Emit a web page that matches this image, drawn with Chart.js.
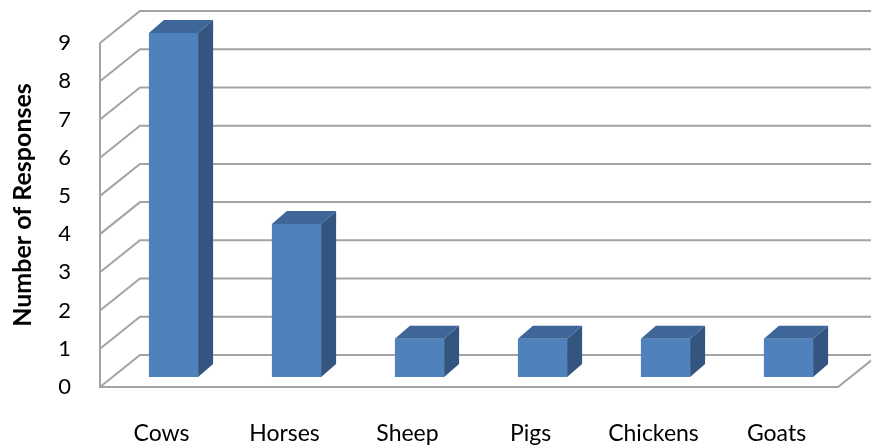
<!DOCTYPE html>
<html>
<head>
<meta charset="utf-8">
<script src="https://cdn.jsdelivr.net/npm/chart.js@4/dist/chart.umd.min.js"></script>
<style>
  html, body { margin: 0; padding: 0; background: #fff; }
</style>
</head>
<body>
<canvas id="animals-chart" width="871" height="446"></canvas>
<script>
const categories = ['Cows', 'Horses', 'Sheep', 'Pigs', 'Chickens', 'Goats'];
const responses = [9, 4, 1, 1, 1, 1];
const yTicks = [0, 1, 2, 3, 4, 5, 6, 7, 8, 9];

// 3d look: front edge of the floor sits in front of the bars, back wall behind
const front = { dx: -12, dy: 10 };
const back = { dx: 28, dy: -22 };
const depth = { dx: 15, dy: -13 };
const gridColor = '#a3a3a3';

const wallsPlugin = {
    id: 'walls',
    beforeDatasetsDraw(chart) {
        const { ctx, chartArea: area, scales: { y } } = chart;
        ctx.save();
        ctx.strokeStyle = gridColor;
        ctx.lineWidth = 2;
        ctx.beginPath();
        yTicks.forEach(v => {
            const py = y.getPixelForValue(v);
            ctx.moveTo(area.left + front.dx, py + front.dy);
            ctx.lineTo(area.left + back.dx, py + back.dy);
            ctx.lineTo(chart.width + 5, py + back.dy);
        });
        const y0 = y.getPixelForValue(0);
        const yMax = y.getPixelForValue(yTicks[yTicks.length - 1]);
        // left edge
        ctx.moveTo(area.left + front.dx, yMax + front.dy);
        ctx.lineTo(area.left + front.dx, y0 + front.dy);
        // floor front edge and right side
        ctx.lineTo(area.right + front.dx, y0 + front.dy);
        ctx.lineTo(area.right + back.dx, y0 + back.dy);
        ctx.stroke();
        ctx.restore();
    },
    afterDatasetsDraw(chart) {
        const { ctx } = chart;
        const meta = chart.getDatasetMeta(0);
        ctx.save();
        meta.data.forEach(bar => {
            const left = bar.x - bar.width / 2;
            const right = bar.x + bar.width / 2;
            const top = bar.y;
            const bottom = bar.base;
            // side
            ctx.fillStyle = '#34557f';
            ctx.beginPath();
            ctx.moveTo(right, top);
            ctx.lineTo(right + depth.dx, top + depth.dy);
            ctx.lineTo(right + depth.dx, bottom + depth.dy);
            ctx.lineTo(right, bottom);
            ctx.closePath();
            ctx.fill();
            // top
            ctx.fillStyle = '#3e6698';
            ctx.beginPath();
            ctx.moveTo(left, top);
            ctx.lineTo(left + depth.dx, top + depth.dy);
            ctx.lineTo(right + depth.dx, top + depth.dy);
            ctx.lineTo(right, top);
            ctx.closePath();
            ctx.fill();
        });
        ctx.restore();
    }
};

new Chart(document.getElementById('animals-chart'), {
    type: 'bar',
    data: {
        labels: categories,
        datasets: [{
            data: responses,
            backgroundColor: '#4f81bd',
            borderWidth: 0,
            categoryPercentage: 1,
            barPercentage: 0.4
        }]
    },
    options: {
        responsive: false,
        animation: false,
        layout: { padding: { top: 33, right: 21, left: 0, bottom: 0 } },
        plugins: {
            legend: { display: false },
            tooltip: { enabled: false }
        },
        scales: {
            x: {
                grid: { display: false, drawTicks: false },
                border: { display: false },
                ticks: {
                    color: '#000',
                    font: { family: 'Lato', size: 23 },
                    padding: 43,
                    labelOffset: -12,
                    maxRotation: 0
                },
                afterFit: scale => { scale.height = 69; }
            },
            y: {
                min: 0,
                max: 9,
                grid: { display: false, drawTicks: false },
                border: { display: false },
                ticks: {
                    stepSize: 1,
                    color: '#000',
                    font: { family: 'Lato', size: 22 },
                    padding: 41,
                    labelOffset: 10
                },
                title: {
                    display: true,
                    text: 'Number of Responses',
                    color: '#000',
                    font: { family: 'Lato', size: 25, weight: 'bold' },
                    padding: { top: 8, bottom: 0 }
                },
                afterFit: scale => {
                    scale.width = 112;
                    scale.paddingTop = 0;
                    scale.paddingBottom = 0;
                }
            }
        }
    },
    plugins: [wallsPlugin]
});
</script>
</body>
</html>
